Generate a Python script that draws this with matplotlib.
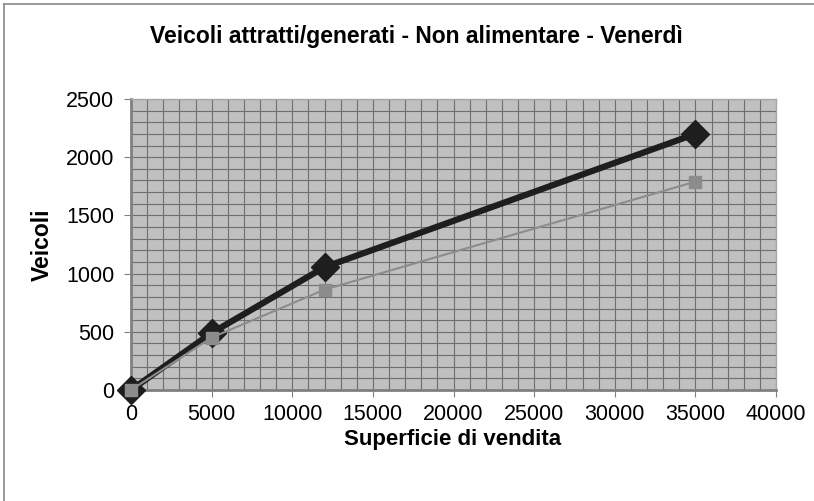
import matplotlib
matplotlib.use("Agg")
import matplotlib.pyplot as plt
from matplotlib.lines import Line2D
from matplotlib.ticker import MultipleLocator

plt.rcParams['font.family'] = ['Liberation Sans', 'DejaVu Sans']

# data
superficie = [0, 5000, 12000, 35000]
veicoli_a = [0, 490, 1055, 2200]    # black diamonds
veicoli_b = [0, 450, 862, 1790]     # grey squares

title = "Veicoli attratti/generati - Non alimentare - Venerdì"
xlabel = "Superficie di vendita"
ylabel = "Veicoli"

W, H = 814, 501
fig = plt.figure(figsize=(W / 100, H / 100), dpi=100)
ax = fig.add_axes([131 / W, 1 - 390 / H, 645 / W, 291 / H])

# outer chart frame: only top and left edges are visible in the reference
fig.lines.append(Line2D([4 / W, 4 / W], [0, 1 - 4 / H], transform=fig.transFigure,
                        color='#8a8a8a', linewidth=1.2))
fig.lines.append(Line2D([4 / W, 1], [1 - 4 / H, 1 - 4 / H], transform=fig.transFigure,
                        color='#8a8a8a', linewidth=1.2))

ax.set_facecolor('#c0c0c0')
ax.set_xlim(0, 40000)
ax.set_ylim(0, 2500)
ax.xaxis.set_major_locator(MultipleLocator(5000))
ax.yaxis.set_major_locator(MultipleLocator(500))
ax.xaxis.set_minor_locator(MultipleLocator(1000))
ax.yaxis.set_minor_locator(MultipleLocator(100))
ax.grid(True, which='both', color='#6e6e6e', linewidth=0.8)
ax.set_axisbelow(True)
ax.tick_params(which='minor', length=0)
ax.tick_params(which='major', length=5, width=0.8, color='#808080',
               labelsize=15.5)
ax.tick_params(axis='x', pad=5)
ax.tick_params(axis='y', pad=7)

for side in ['left', 'bottom']:
    ax.spines[side].set_color('#808080')
    ax.spines[side].set_linewidth(2)
for side in ['top', 'right']:
    ax.spines[side].set_color('#a8a8a8')
    ax.spines[side].set_linewidth(1)

ax.plot(superficie, veicoli_b, color='#8c8c8c', linewidth=1.5,
        marker='s', markersize=8, markeredgecolor='#8c8c8c', clip_on=False, zorder=4)
ax.plot(superficie, veicoli_a, color='#1e1e1e', linewidth=4.5,
        marker='D', markersize=14, markeredgecolor='#1e1e1e', clip_on=False, zorder=3)

fig.text(416 / W, 1 - 36 / H, title, ha='center', va='center',
         fontsize=16.5, fontweight='bold')
fig.text(453 / W, 1 - 440 / H, xlabel, ha='center', va='center',
         fontsize=16, fontweight='bold')
fig.text(42 / W, 1 - 245 / H, ylabel, ha='center', va='center',
         fontsize=16.5, fontweight='bold', rotation=90)

fig.savefig("out.png", dpi=100)
